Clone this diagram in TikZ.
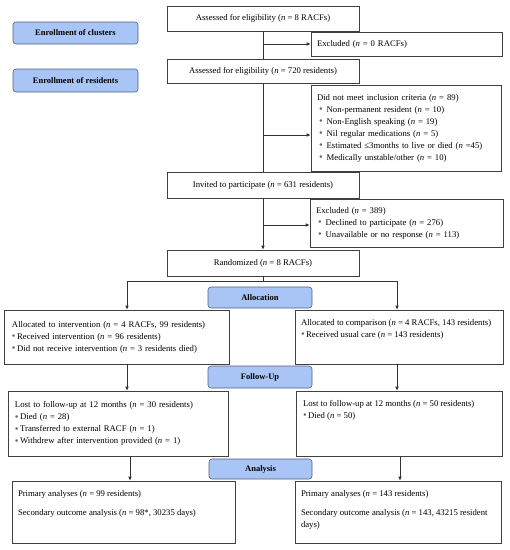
\documentclass[tikz,border=0pt]{standalone}
\usepackage{fontspec}
\setmainfont{Liberation Serif}
\usetikzlibrary{arrows.meta}
\definecolor{bfill}{RGB}{169,197,245}
\definecolor{bdraw}{RGB}{80,95,125}
\newcommand{\bu}{{\color{black!60}\raisebox{-0.15ex}{\fontsize{10.5}{12}\selectfont\textbullet}}}
\newcommand{\nn}{\textit{n}}
\newcommand{\tbx}[3]{\begin{minipage}[c][#1pt][t]{#2pt}\raggedright\vspace*{9pt}#3\end{minipage}}
\begin{document}
\begin{tikzpicture}[x=1pt,y=-1pt,
 box/.style={draw=black!75, line width=0.6pt, inner sep=0pt, font=\fontsize{8.7}{12}\selectfont},
 cbox/.style={box, align=center},
 lbox/.style={box, align=left, inner xsep=6pt},
 phase/.style={draw=bdraw, fill=bfill, rounded corners=3pt, line width=0.6pt, font=\fontsize{8.5}{10}\selectfont\bfseries, inner sep=0pt},
 conn/.style={draw=black!80, line width=0.6pt},
 arr/.style={conn, -{Latex[length=4pt,width=3.5pt]}}]
\useasboundingbox (0,0) rectangle (510,550);

\node[phase, minimum width=125pt, minimum height=22pt] (ec) at (75.5,33) {Enrollment of clusters};
\node[phase, minimum width=125pt, minimum height=23pt] (er) at (75.5,80.5) {Enrollment of residents};

\node[cbox, minimum width=192pt, minimum height=25pt] (a1) at (263,18.5) {Assessed for eligibility (\nn{} = 8 RACFs)};
\node[lbox, text width=179pt, minimum height=24pt] (ex0) at (406.5,44) {Excluded (\nn{} = 0 RACFs)};
\node[cbox, minimum width=192pt, minimum height=24pt] (a2) at (263,71) {Assessed for eligibility (\nn{} = 720 residents)};
\node[lbox, text width=178pt, minimum height=86pt] (dnm) at (406,128) {Did not meet inclusion criteria (\nn{} = 89)\\
\hspace*{2pt}\bu\hspace{4pt}Non-permanent resident (\nn{} = 10)\\
\hspace*{2pt}\bu\hspace{4pt}Non-English speaking (\nn{} = 19)\\
\hspace*{2pt}\bu\hspace{4pt}Nil regular medications (\nn{} = 5)\\
\hspace*{2pt}\bu\hspace{4pt}Estimated ≤3months to live or died (\nn{} =45)\\
\hspace*{2pt}\bu\hspace{4pt}Medically unstable/other (\nn{} = 10)};
\node[cbox, minimum width=192pt, minimum height=26pt] (inv) at (263,185) {Invited to participate (\nn{} = 631 residents)};
\node[lbox, text width=181pt, minimum height=48pt] (ex389) at (406.5,223) {Excluded (\nn{} = 389)\\
\hspace*{2pt}\bu\hspace{4pt}Declined to participate (\nn{} = 276)\\
\hspace*{2pt}\bu\hspace{4pt}Unavailable or no response (\nn{} = 113)};
\node[cbox, minimum width=192pt, minimum height=26pt] (rand) at (263,263) {Randomized (\nn{} = 8 RACFs)};

\node[phase, minimum width=104pt, minimum height=21pt] (alloc) at (260,297.5) {Allocation};
\node[lbox, inner xsep=8pt, text width=209pt, minimum height=54pt] (la) at (116.5,337) {Allocated to intervention (\nn{} = 4 RACFs, 99 residents)\\
\bu\,Received intervention (\nn{} = 96 residents)\\
\bu\,Did not receive intervention (\nn{} = 3 residents died)};
\node[box, inner xsep=6pt] (ra) at (399,337) {\tbx{54}{196}{Allocated to comparison (\nn{} = 4 RACFs, 143 residents)\\
\bu\,Received usual care (\nn{} = 143 residents)}};

\node[phase, minimum width=104pt, minimum height=22pt] (fu) at (260,377) {Follow-Up};
\node[lbox, inner xsep=7pt, text width=206pt, minimum height=65pt] (ll) at (118,423.5) {Lost to follow-up at 12 months (\nn{} = 30 residents)\\
\bu\,Died (\nn{} = 28)\\
\bu\,Transferred to external RACF (\nn{} = 1)\\
\bu\,Withdrew after intervention provided (\nn{} = 1)};
\node[box, inner xsep=7pt] (rl) at (399,423.5) {\tbx{65}{192}{Lost to follow-up at 12 months (\nn{} = 50 residents)\\
\bu\,Died (\nn{} = 50)}};

\node[phase, minimum width=103pt, minimum height=20pt] (an) at (260.5,469) {Analysis};
\node[box, inner xsep=6pt] (lan) at (123.5,512) {\tbx{62}{211}{Primary analyses (\nn{} = 99 residents)\\[7pt]
Secondary outcome analysis (\nn{} = 98*, 30235 days)}};
\node[box, inner xsep=6pt] (ran) at (398,512) {\tbx{62}{194}{Primary analyses (\nn{} = 143 residents)\\[7pt]
Secondary outcome analysis (\nn{} = 143, 43215 resident\\ days)}};

\coordinate (j1) at (263,44);
\coordinate (j2) at (263,135);
\coordinate (j3) at (263,225);
\coordinate (split) at (263,281);
\coordinate (lsplit) at (127,281);
\coordinate (rsplit) at (397,281);

\draw[conn] (a1.south) -- (a2.north);
\draw[arr] (j1) -- (ex0.west);
\draw[conn] (a2.south) -- (inv.north);
\draw[arr] (j2) -- (j2 -| dnm.west);
\draw[arr] (inv.south) -- (rand.north);
\draw[arr] (j3) -- (j3 -| ex389.west);
\draw[conn] (rand.south) -- (split);
\draw[conn] (lsplit) -- (rsplit);
\draw[arr] (lsplit) -- (lsplit |- la.north);
\draw[arr] (rsplit) -- (rsplit |- ra.north);
\draw[arr] (lsplit |- la.south) -- (lsplit |- ll.north);
\draw[arr] (rsplit |- ra.south) -- (rsplit |- rl.north);
\draw[arr] ([xshift=12pt]ll.south) -- ([xshift=12pt]ll.south |- lan.north);
\draw[arr] ([xshift=1pt]rl.south) -- ([xshift=1pt]rl.south |- ran.north);
\end{tikzpicture}
\end{document}
